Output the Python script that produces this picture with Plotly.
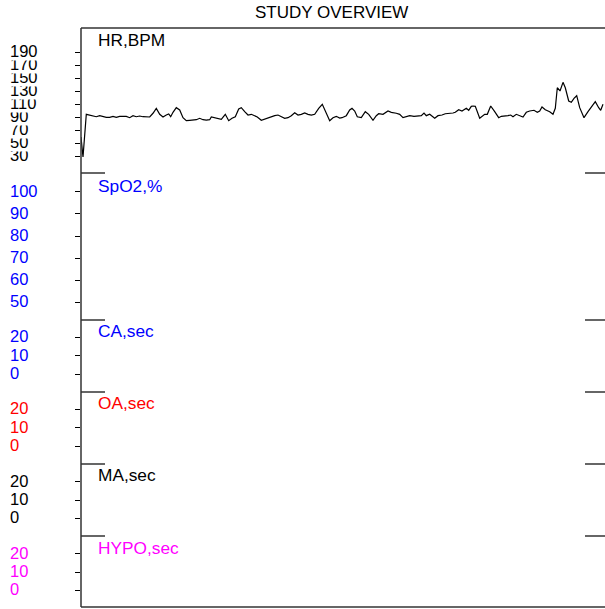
import plotly.graph_objects as go

# ---------------- data ----------------
time_min = [0, 2, 5.3, 8.7, 12, 15.3, 18.7, 22, 25.3, 28.7, 32, 35.3, 38.7, 42, 45.3, 48.7, 52, 55.3,
            58.7, 62, 65.3, 68.7, 72, 75.3, 78.7, 82, 85.3, 87.7, 89.7, 92, 95.3, 98.7, 102, 105.3,
            108.7, 112, 115.3, 118.7, 122, 125.3, 128.7,
            130.3, 133.7, 137, 140.3, 144.3, 147.7, 151, 154.3, 157.7, 160.3, 163.7, 167, 170.3,
            173, 176.3, 180.3, 183.7, 187, 190.3, 193.7, 197, 200.3, 203.7, 207, 210.3, 213.7, 217,
            220.3, 223.7, 227, 230.3, 233.7, 237.7, 241.3, 244.3, 248.7, 252, 255.3, 258.7,
            261, 265.3, 268.7, 271, 273.7, 276.3, 280.3, 284.3, 287.7, 292, 295.3, 297.7, 302,
            307, 310.3, 315.3, 318.7, 322, 325.3, 328.7, 333, 337, 340.3, 343, 345.3, 348.7,
            353.7, 357, 361, 364.3, 368.7, 372, 374.3, 377.7, 381, 385.3, 387.7, 390.3,
            392, 394.3, 398.7, 403.7, 406.3, 409.7, 413.7, 417.7, 420.3, 423.7, 427, 429.7, 432,
            435.3, 438.7, 442, 445.3, 448.7, 453, 456.3, 458.7, 461, 464.3, 468.7, 472, 474.3,
            476.3, 479, 482, 484.3, 487.7, 490.3, 493, 495.7, 498.7, 503, 507, 511, 514.3, 517.7,
            519.7, 522]
hr_bpm = [59.7, 28.9, 94.6, 93.5, 92.5, 90.9, 92.5, 90.9, 90.0, 90.0, 91.5, 90.0, 91.5, 91.5, 91.5,
          89.4, 92.5, 90.9, 92.0, 90.9, 90.9, 90.5, 96.2, 103.8, 94.6, 90.5, 93.5, 95.1, 90.9, 97.7,
          104.8, 101.2, 89.4, 84.8, 85.4, 85.4, 86.3, 88.5, 86.3, 85.8, 86.3,
          90.5, 89.4, 88.5, 86.9, 94.6, 84.8, 88.5, 90.9, 102.8, 104.8, 98.6, 93.5, 94.6, 92.5,
          90.5, 85.4, 87.4, 88.5, 90.9, 92.5, 93.5, 91.5, 88.5, 89.4, 92.5, 97.1, 93.5, 94.6, 96.6,
          94.6, 93.5, 94.6, 103.8, 110.0, 98.6, 84.8, 89.4, 91.5, 88.9,
          89.4, 92.5, 101.2, 103.8, 99.7, 90.9, 89.4, 98.6, 94.6, 85.4, 92.5, 95.5, 94.6, 99.7,
          97.7, 96.2, 94.6, 89.4, 90.9, 92.5, 91.5, 92.5, 92.5, 96.6, 92.5, 94.6, 88.5, 92.5,
          93.5, 95.5, 95.5, 96.6, 97.7, 101.7, 99.7, 103.8, 100.8, 106.9,
          107.4, 106.9, 88.5, 94.6, 94.6, 107.4, 98.6, 89.4, 91.5, 91.5, 92.5, 93.5, 90.9, 94.6,
          92.5, 90.5, 97.7, 99.7, 100.8, 97.7, 99.7, 105.8, 101.7, 98.6, 94.6, 103.8, 135.5,
          130.5, 143.8, 135.5, 115.1, 113.1, 119.2, 123.2, 104.8, 89.4, 98.6, 106.9, 114.0,
          104.8, 100.8, 110.0, 110.0]

spo2_pct = []
ca_sec = []
oa_sec = []
ma_sec = []
hypo_sec = []

panel_names = ["HR,BPM", "SpO2,%", "CA,sec", "OA,sec", "MA,sec", "HYPO,sec"]
panel_colors = ["black", "#0000FF", "#0000FF", "#FF0000", "black", "#FF00FF"]
hr_ticks = [30, 50, 70, 90, 110, 130, 150, 170, 190]
spo2_ticks = [50, 60, 70, 80, 90, 100]
event_ticks = [0, 10, 20]
title_text = "STUDY OVERVIEW"

# ---------------- layout geometry (window pixels; body margin removed) ----------------
W, H = 605, 609
ML, MT, MR, MB = 81, 28, 1, 2
PW = W - ML - MR
PH = H - MT - MB
panel_tops_px = [28, 173, 320, 392, 464, 536]
panel_bottoms_px = [173, 320, 392, 464, 536, 607]
ranges = [[4.3, 227.4], [42, 108.5], [-9.57, 29.35], [-9.57, 29.35], [-9.7, 29.7], [-9.1, 29.7]]
tick_sets = [hr_ticks, spo2_ticks, event_ticks, event_ticks, event_ticks, event_ticks]
label_offsets = [12, 13, 11, 11, 11, 11.5]
series = [hr_bpm, spo2_pct, ca_sec, oa_sec, ma_sec, hypo_sec]

def py(ywin):
    return (H - MB - ywin) / PH

def px(xwin):
    return (xwin - ML) / PW

FONT = "Liberation Sans, Arial, sans-serif"

fig = go.Figure()
layout = dict(
    width=W, height=H,
    margin=dict(l=ML, r=MR, t=MT, b=MB),
    paper_bgcolor="white", plot_bgcolor="white",
    showlegend=False,
    font=dict(family=FONT, size=16, color="black"),
    xaxis=dict(range=[0, PW], showgrid=False, zeroline=False, showticklabels=False,
               ticks="", showline=False, anchor="y6"),
)

annotations = []
shapes = []
for i in range(6):
    name = "yaxis" if i == 0 else f"yaxis{i+1}"
    yref = "y" if i == 0 else f"y{i+1}"
    layout[name] = dict(
        domain=[py(panel_bottoms_px[i]), py(panel_tops_px[i])],
        range=ranges[i], anchor="x",
        showgrid=False, zeroline=False, showline=False, showticklabels=False,
        ticks="outside", ticklen=5, tickwidth=1, tickcolor="black",
        tickvals=tick_sets[i], mirror="ticks",
    )
    xs = time_min if i == 0 else []
    fig.add_trace(go.Scatter(x=xs, y=series[i], mode="lines", name=panel_names[i],
                             line=dict(color="black", width=1.2),
                             xaxis="x", yaxis=yref, hoverinfo="skip"))
    # tick labels (drawn bottom-up with white boxes so upper labels overlap lower ones)
    for v in tick_sets[i]:
        annotations.append(dict(
            x=px(9), xref="paper", xanchor="left",
            y=v, yref=yref, yanchor="middle", yshift=1,
            text=str(v), showarrow=False, bgcolor="white", borderpad=0,
            font=dict(family=FONT, size=16.5, color=panel_colors[i]),
        ))
    # panel label
    annotations.append(dict(
        x=px(95.5), xref="paper", xanchor="left",
        y=py(panel_tops_px[i]), yref="paper", yanchor="middle", yshift=-label_offsets[i],
        text=panel_names[i], showarrow=False,
        font=dict(family=FONT, size=17.3, color=panel_colors[i]),
    ))
    # separators
    if i > 0:
        yy = py(panel_tops_px[i])
        shapes.append(dict(type="line", xref="paper", yref="paper", x0=0, x1=px(105),
                           y0=yy, y1=yy, line=dict(color="#333333", width=1.5)))
        shapes.append(dict(type="line", xref="paper", yref="paper", x0=px(585), x1=px(606),
                           y0=yy, y1=yy, line=dict(color="#333333", width=1.5)))

# frame: left, top, bottom
frame = dict(color="#333333", width=1.5)
shapes.append(dict(type="line", xref="paper", yref="paper", x0=0, x1=0, y0=0, y1=1, line=frame))
shapes.append(dict(type="line", xref="paper", yref="paper", x0=0, x1=px(606), y0=1, y1=1, line=frame))
shapes.append(dict(type="line", xref="paper", yref="paper", x0=0, x1=px(606), y0=0, y1=0, line=frame))

annotations.append(dict(
    x=px(331), xref="paper", xanchor="center",
    y=py(13), yref="paper", yanchor="middle",
    text=title_text, showarrow=False,
    font=dict(family=FONT, size=17, color="black"),
))

layout["annotations"] = annotations
layout["shapes"] = shapes
fig.update_layout(**layout)
fig.write_html("out.html", config={"displayModeBar": False},
               post_script="document.body.style.margin='0';document.body.style.overflow='hidden';")
